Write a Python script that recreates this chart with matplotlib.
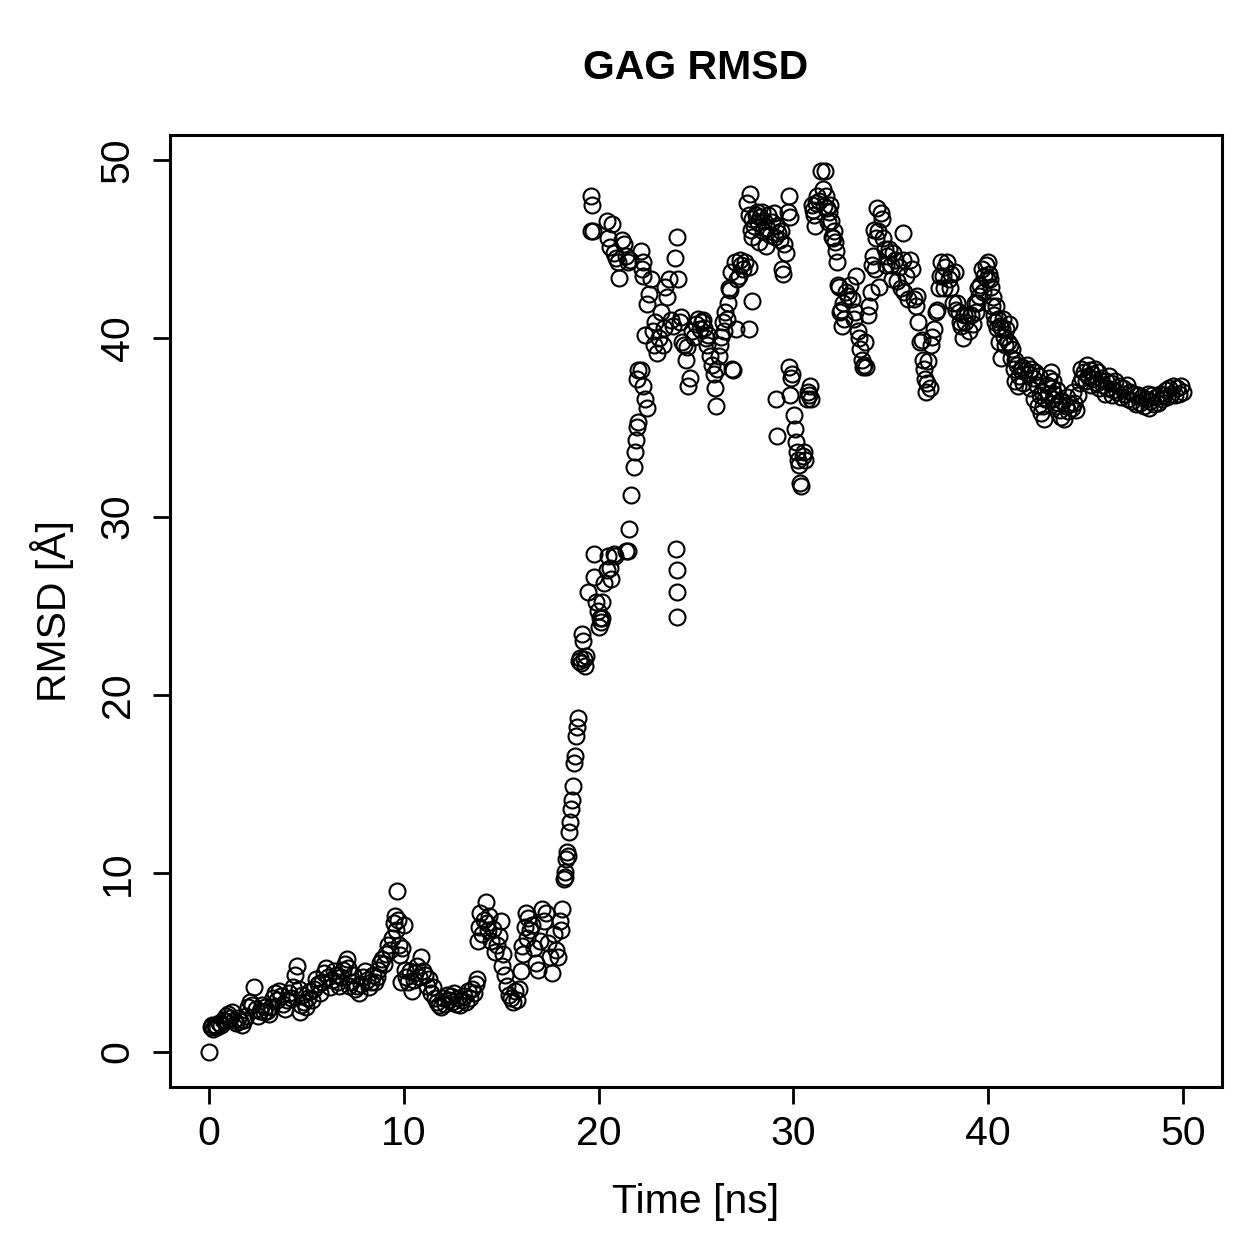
import matplotlib
matplotlib.use("Agg")
import matplotlib.pyplot as plt

plt.rcParams['font.family'] = ['Liberation Sans', 'DejaVu Sans']

title = "GAG RMSD"
xlabel = "Time [ns]"
ylabel = "RMSD [Å]"
x_ticks = [0, 10, 20, 30, 40, 50]
y_ticks = [0, 10, 20, 30, 40, 50]

# (time [ns], RMSD [Å]), grouped by phase
phase_equil = [(0.0,0.0),(0.1,1.4),(0.15,1.5),(0.2,1.3),(0.3,1.5),(0.35,1.4),(0.4,1.4),(0.5,1.6),(0.6,1.5),(0.7,1.8),
    (0.8,1.7),(0.9,2.0),(1.0,2.1),(1.1,1.9),(1.2,2.2),(1.3,1.8),(1.4,1.6),(1.5,1.9),(1.6,1.7),(1.7,1.5),(1.8,1.8),
    (1.9,2.0),(2.0,2.5),(2.1,2.8),(2.2,2.6),(2.3,3.6),(2.4,2.4),(2.5,2.0),(2.6,2.3),(2.7,2.6),(2.8,2.2),(2.9,2.5),
    (3.0,2.3),(3.1,2.1),(3.2,2.5),(3.3,3.0),(3.4,3.3),(3.5,2.9),(3.6,3.4),(3.7,3.1),(3.8,2.7),(3.9,2.4),(4.0,2.9),
    (4.1,3.3),(4.2,3.0),(4.3,3.6),(4.4,4.3),(4.5,4.8),(4.6,3.5),(4.65,2.2),(4.7,2.6),(4.8,3.2),(4.9,2.8),(5.0,2.5),
    (5.1,3.0),(5.2,3.4),(5.3,2.9),(5.4,3.5),(5.5,4.1),(5.6,3.8),(5.7,3.3),(5.8,3.9),(5.9,4.4),(6.0,4.7),(6.1,4.2),
    (6.2,3.6),(6.3,4.0),(6.4,4.5),(6.5,4.3),(6.6,3.9),(6.7,3.7),(6.8,4.2),(6.9,4.6),(7.0,4.9),(7.1,5.2),(7.15,4.7),
    (7.2,3.7),(7.3,3.9),(7.4,4.3),(7.5,3.5),(7.6,3.7),(7.7,3.3),(7.8,3.8),(7.9,4.2),(8.0,4.5),(8.1,4.0),(8.2,3.6),
    (8.3,3.9),(8.4,4.3),(8.5,3.9),(8.6,4.2),(8.7,4.6),(8.8,5.0),(8.9,5.2),(9.0,4.9),(9.1,5.5),(9.2,6.0),(9.3,5.7),
    (9.4,6.4),(9.5,7.2),(9.55,7.6),(9.6,6.8),(9.65,9.0),(9.7,7.4),(9.75,6.0),(9.8,5.4),(9.85,3.9),(9.9,5.8),(10.0,7.1)]

phase_plateau = [(10.05,4.6),(10.1,4.2),(10.2,3.9),(10.3,4.5),(10.4,3.4),(10.5,4.0),(10.6,4.4),(10.7,4.8),(10.8,4.2),
    (10.9,5.3),(11.0,4.5),(11.1,4.3),(11.2,3.7),(11.3,4.1),(11.4,3.3),(11.5,3.6),(11.6,3.0),(11.7,2.8),(11.8,2.6),
    (11.9,2.5),(12.0,3.0),(12.1,2.7),(12.2,3.2),(12.3,2.9),(12.4,3.1),(12.5,2.8),(12.6,3.3),(12.7,2.7),(12.8,3.0),
    (12.9,2.6),(13.0,2.9),(13.1,3.1),(13.2,2.8),(13.3,3.4),(13.4,3.0),(13.5,3.5),(13.6,3.3),(13.7,3.8),(13.75,4.1),
    (13.8,6.2),(13.85,7.0),(13.9,7.8),(14.0,6.6),(14.1,7.4),(14.2,8.4),(14.25,7.2),(14.3,6.8),(14.4,7.6),(14.5,6.2),
    (14.6,6.9),(14.7,5.6),(14.8,6.0),(14.9,6.5),(15.0,7.3),(15.05,4.8),(15.1,5.5),(15.2,4.3),(15.3,3.7),(15.4,3.2),
    (15.5,3.0),(15.6,2.8),(15.7,3.4),(15.8,2.9),(15.9,3.5),(16.0,4.5),(16.05,5.9),(16.1,5.5),(16.2,7.0),(16.25,7.8),
    (16.3,6.4),(16.4,7.5),(16.5,6.8),(16.6,7.1),(16.7,5.8),(16.8,5.0),(16.9,4.6),(17.0,6.2),(17.1,8.0),(17.2,7.3),
    (17.3,7.8),(17.4,6.1),(17.5,5.3),(17.6,4.4),(17.7,6.6),(17.8,5.7),(17.9,5.3),(18.0,7.3),(18.05,6.8),(18.1,8.0)]

phase_transition = [(18.2,9.7),(18.25,10.1),(18.3,9.8),(18.35,10.8),(18.4,11.2),(18.45,11.0),(18.5,12.3),(18.55,12.9),
    (18.6,13.6),(18.65,14.1),(18.7,14.9),(18.75,16.2),(18.8,16.6),(18.85,17.7),(18.9,18.2),(18.95,18.7),(19.0,21.9),
    (19.05,22.1),(19.1,21.8),(19.15,23.4),(19.2,23.0),(19.25,22.0),(19.3,21.6),(19.35,22.2),(19.45,25.8),(19.6,48.0),
    (19.65,47.5),(19.6,46.0),(19.7,46.0),(19.75,27.9),(19.75,26.6),(19.85,25.2),(19.95,24.7),(20.0,23.8),(20.05,24.3),
    (20.1,24.1),(20.15,25.2),(20.2,24.3),(20.3,26.3),(20.45,27.0),(20.5,27.8),(20.6,27.1),(20.65,26.5),(20.8,27.9),
    (20.85,27.8),(20.45,46.6),(20.7,46.4),(20.5,45.6),(20.6,45.1),(20.8,44.8),(20.9,44.5),(21.0,44.3),(21.05,43.4),
    (21.2,45.5),(21.3,45.3),(21.4,44.6),(21.5,44.3),(21.6,44.4),(21.4,28.1),(21.5,28.1),(21.55,29.3),(21.65,31.2),
    (21.8,32.8),(21.85,33.6),(21.9,34.3),(21.95,35.0),(22.0,35.3),(22.0,38.2),(21.95,37.7),(22.3,37.3),(22.4,36.6),
    (22.5,36.1),(22.2,38.2)]

phase_upper = [(22.2,44.9),(22.3,44.3),(22.25,43.9),(22.3,43.5),(22.5,41.9),(22.4,40.2),(22.6,42.5),(22.7,43.3),
    (22.8,40.4),(22.85,39.6),(22.9,40.9),(23.0,39.2),(23.1,40.0),(23.2,41.5),(23.3,39.6),(23.35,40.6),(23.4,42.9),
    (23.5,42.3),(23.6,43.3),(23.7,41.0),(23.8,40.7),(23.9,44.5),(24.05,45.7),(24.1,43.3),(24.2,40.9),(24.25,41.2),
    (24.3,39.8),(24.4,39.6),(24.5,38.8),(24.55,39.5),(24.6,37.3),(24.7,37.8),(24.8,40.4),(24.9,40.1),(25.0,40.8),
    (25.1,41.1),(25.2,40.5),(25.3,40.9),(25.35,41.0),(25.4,40.6),(25.5,40.0),(25.55,39.6),(25.6,40.2),(25.7,39.0),
    (25.8,38.5),(25.9,38.0),(26.0,37.2),(26.05,36.2),(26.1,38.3),(26.2,39.0),(26.25,39.6),(26.3,40.1),(26.4,40.9),
    (26.45,40.4),(26.5,41.5),(26.6,41.1),(26.65,42.0),(26.7,42.8),(26.8,43.7),(26.75,42.7),(26.85,38.3),(26.9,38.2),
    (27.0,44.3),(27.05,40.5),(27.1,43.3),(27.2,43.5),(27.25,44.4),(27.3,44.1),(27.4,43.9),(27.5,44.3),(27.7,40.5),
    (27.7,44.0),(27.85,42.1)]

phase_dip24 = [(23.95,28.2),(24.0,27.0),(24.05,25.8),(24.0,24.4)]

phase_peak = [(27.6,47.6),(27.75,48.1),(27.7,46.9),(27.8,46.1),(27.85,46.7),(27.9,45.7),(28.0,46.3),(28.1,46.9),
    (28.15,47.1),(28.2,46.5),(28.25,45.4),(28.3,46.8),(28.4,47.1),(28.45,46.0),(28.5,46.6),(28.6,45.2),(28.65,46.2),
    (28.7,46.9),(28.8,45.8),(28.9,46.5),(29.0,47.0),(29.05,45.7),(29.1,46.3),(29.2,45.9),(29.3,45.5),(29.35,46.0),
    (29.4,43.9),(29.45,43.6),(29.5,45.3),(29.6,44.8),(29.7,47.1),(29.75,48.0),(29.8,46.8)]

phase_dip30 = [(29.1,36.6),(29.15,34.5),(29.75,38.4),(29.8,36.8),(29.9,37.8),(29.95,38.0),(30.05,35.7),(30.1,34.9),
    (30.15,34.2),(30.2,33.6),(30.25,33.2),(30.3,32.9),(30.35,31.9),(30.4,31.7),(30.5,33.4),(30.55,33.6),(30.6,33.2),
    (30.7,36.6),(30.75,37.0),(30.8,36.8),(30.85,37.3),(30.9,36.6)]

phase_second = [(30.95,47.5),(31.0,47.2),(31.05,46.9),(31.1,46.3),(31.15,47.6),(31.2,48.0),(31.3,47.7),(31.4,49.4),
    (31.5,48.4),(31.55,47.4),(31.6,49.4),(31.65,48.0),(31.7,47.3),(31.8,46.5),(31.85,47.1),(31.9,47.5),(31.95,46.6),
    (32.0,45.7),(32.05,45.6),(32.1,46.0),(32.15,45.4),(32.2,44.9),(32.25,44.3),(32.3,43.0),(32.35,42.9),(32.4,41.5),
    (32.45,41.6),(32.5,40.7),(32.55,42.0),(32.6,41.1),(32.7,42.6),(32.8,42.4),(32.9,43.0),(33.0,42.2),(33.1,41.1),
    (33.15,41.5),(33.2,43.5),(33.3,40.4),(33.35,40.0),(33.4,39.4),(33.5,38.8),(33.55,38.4),(33.6,38.5),(33.7,39.8),
    (33.75,38.4),(33.85,41.3),(33.9,41.8),(34.0,42.6),(34.05,44.1),(34.1,44.6),(34.15,46.1),(34.2,43.9),(34.25,45.6),
    (34.3,47.3),(34.35,46.0),(34.4,42.9),(34.5,47.0),(34.55,46.7),(34.6,45.6)]

phase_third = [(34.7,45.0),(34.75,44.1),(34.8,44.6),(34.9,45.0),(35.0,44.1),(35.05,43.3),(35.1,44.8),(35.2,44.4),
    (35.3,43.2),(35.4,44.0),(35.5,42.8),(35.6,45.9),(35.65,44.4),(35.7,42.6),(35.8,43.5),(35.9,42.2),(36.0,44.4),
    (36.1,43.9),(36.2,42.2),(36.3,41.8),(36.35,42.4),(36.4,40.9),(36.5,39.8),(36.6,39.9),(36.65,38.8),(36.7,38.3),
    (36.75,37.7),(36.8,37.0),(36.85,37.5),(36.9,38.7),(37.0,37.2),(37.05,39.6),(37.1,40.1),(37.2,40.5),(37.3,41.5),
    (37.35,41.6),(37.45,42.8),(37.55,43.5),(37.6,44.3)]

phase_fourth = [(37.7,43.5),(37.75,42.8),(37.8,44.0),(37.9,44.3),(38.0,43.3),(38.05,42.8),(38.1,43.6),(38.2,42.0),
    (38.3,43.7),(38.35,41.6),(38.4,42.0),(38.5,41.5),(38.55,40.9),(38.6,40.7),(38.7,40.0),(38.75,41.3),(38.8,40.9),
    (38.9,41.3),(39.0,40.4),(39.1,41.3),(39.2,40.8),(39.3,42.0),(39.35,41.5),(39.4,42.0),(39.5,42.8),(39.55,42.4),
    (39.6,43.0),(39.7,43.9),(39.75,42.6),(39.8,43.5),(39.9,44.1),(39.95,43.3),(40.0,44.3),(40.05,43.6),(40.1,43.3),
    (40.15,42.9),(40.2,41.8),(40.25,42.3),(40.3,41.3),(40.35,40.9),(40.4,41.8),(40.45,40.6),(40.5,41.1),(40.55,39.8),
    (40.6,40.7),(40.65,38.9),(40.7,40.5),(40.75,41.1),(40.8,40.1),(40.85,39.6),(40.9,40.5),(41.0,39.8),(41.05,40.8),
    (41.1,39.6),(41.15,38.9),(41.2,39.4),(41.3,38.3),(41.35,38.8),(41.4,37.6),(41.5,38.5),(41.55,37.3),(41.6,37.9),
    (41.7,38.2),(41.75,38.4),(41.8,37.5),(41.9,38.2),(42.0,38.5)]

phase_tail = [(42.1,38.0),(42.15,37.2),(42.2,38.3),(42.3,37.8),(42.35,36.6),(42.4,38.1),(42.5,37.4),(42.55,36.2),
    (42.6,37.9),(42.65,36.8),(42.7,35.8),(42.75,37.0),(42.8,36.2),(42.85,35.5),(42.9,36.6),(43.0,37.4),(43.05,36.9),
    (43.1,37.8),(43.2,38.1),(43.25,37.2),(43.3,36.6),(43.35,37.6),(43.4,36.9),(43.5,36.2),(43.55,37.1),(43.6,36.4),
    (43.7,36.0),(43.75,35.6),(43.8,36.5),(43.9,35.5),(44.0,36.2),(44.05,36.7),(44.1,35.9),(44.2,36.3),(44.3,36.1),
    (44.35,37.0),(44.4,36.4),(44.5,36.0),(44.6,36.8),(44.7,37.5),(44.75,38.3),(44.8,37.8),(44.9,38.1),(45.0,37.6),
    (45.05,38.5),(45.1,37.9),(45.2,38.2),(45.3,37.4),(45.35,38.0),(45.4,37.7),(45.5,38.3),(45.6,37.5),(45.65,38.1),
    (45.7,37.2),(45.8,37.8),(45.9,37.4),(46.0,36.9),(46.05,37.6),(46.1,37.2),(46.2,37.9),(46.3,37.5),(46.35,36.8),
    (46.4,37.1),(46.5,37.6),(46.6,37.0),(46.7,37.3),(46.8,36.7),(46.9,37.2),(47.0,36.9),(47.1,37.4),(47.2,36.6),
    (47.3,37.0),(47.4,36.5),(47.5,36.9),(47.6,36.3),(47.7,36.8),(47.8,36.4),(47.9,36.7),(48.0,36.2),(48.1,36.6),
    (48.2,36.9),(48.25,36.1),(48.3,36.5),(48.4,36.8),(48.5,36.3),(48.6,36.7),(48.7,36.4),(48.8,36.9),(48.9,36.6),
    (49.0,36.8),(49.1,37.1),(49.2,36.7),(49.3,37.2),(49.4,36.9),(49.5,37.3),(49.6,36.8),(49.7,37.2),(49.8,36.9),
    (49.9,37.3),(50.0,37.0)]

phases = [phase_equil, phase_plateau, phase_transition, phase_upper, phase_dip24, phase_peak,
          phase_dip30, phase_second, phase_third, phase_fourth, phase_tail]
time_ns = [p[0] for ph in phases for p in ph]
rmsd = [p[1] for ph in phases for p in ph]

W = H = 1259
fig = plt.figure(figsize=(W / 100, H / 100), dpi=100)
ax = fig.add_axes([170 / W, 1 - 1087 / H, (1222 - 170) / W, (1087 - 135) / H])

ax.plot(time_ns, rmsd, linestyle='none', marker='o', markersize=11.5,
        markerfacecolor='none', markeredgecolor='black', markeredgewidth=1.5)

ax.set_xlim(-2, 52)
ax.set_ylim(-1.98, 51.4)
ax.set_xticks(x_ticks)
ax.set_yticks(y_ticks)
ax.set_xticklabels([str(v) for v in x_ticks])
ax.set_yticklabels([str(v) for v in y_ticks], rotation=90, va='center')

for s in ax.spines.values():
    s.set_linewidth(2.2)
ax.tick_params(axis='both', direction='out', length=12, width=2.0, labelsize=29.5, colors='black')
ax.tick_params(axis='x', pad=8)
ax.tick_params(axis='y', pad=12)

fig.text(696 / W, 1 - 68 / H, title, ha='center', va='center', fontsize=29.5, fontweight='bold')
fig.text(696 / W, 1 - 1202 / H, xlabel, ha='center', va='center', fontsize=29.5)
fig.text(52 / W, 1 - 611 / H, ylabel, ha='center', va='center', fontsize=29.5, rotation=90)

fig.savefig("out.png", dpi=100, facecolor='white')
